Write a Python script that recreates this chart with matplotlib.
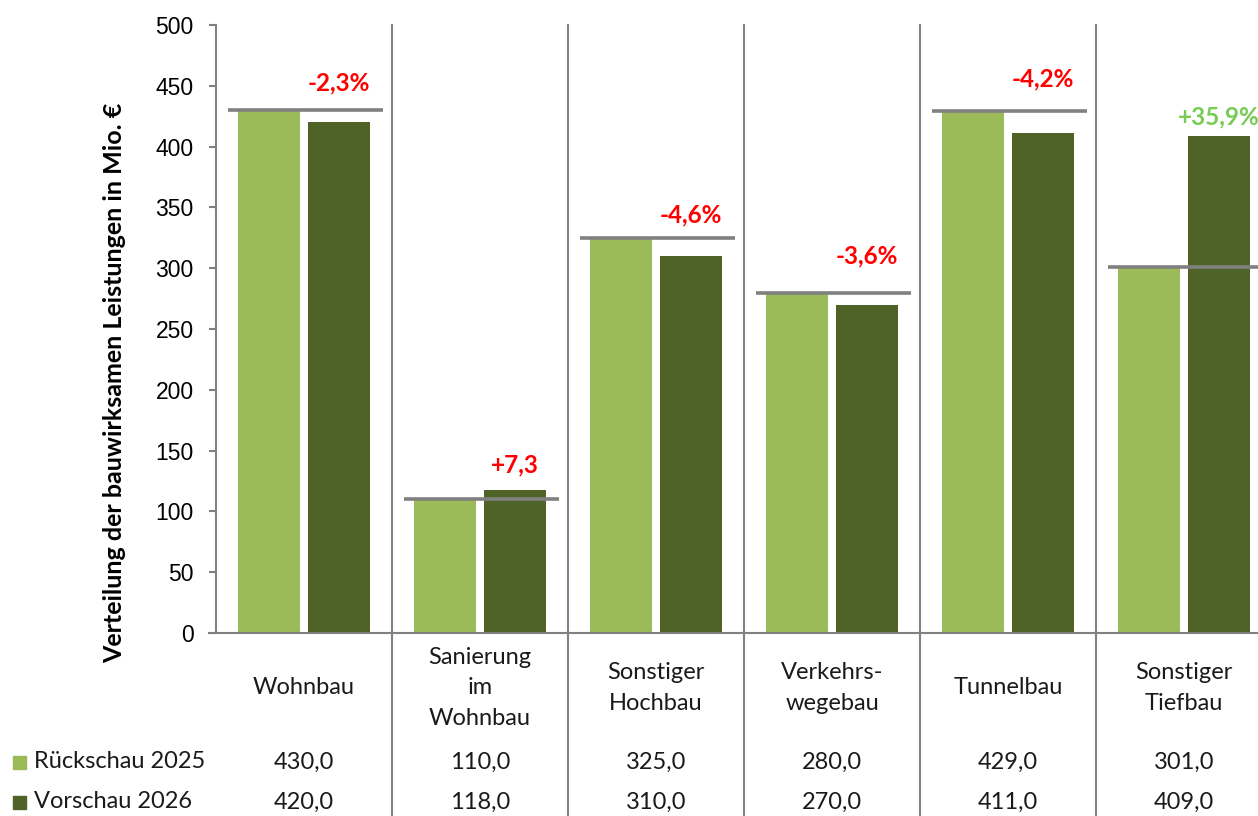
import matplotlib
matplotlib.use("Agg")
import matplotlib.pyplot as plt
from matplotlib.patches import Rectangle
from matplotlib.transforms import blended_transform_factory

# data
categories = ["Wohnbau", "Sanierung\nim\nWohnbau", "Sonstiger\nHochbau",
              "Verkehrs-\nwegebau", "Tunnelbau", "Sonstiger\nTiefbau"]
rueckschau_2025 = [430.0, 110.0, 325.0, 280.0, 429.0, 301.0]
vorschau_2026 = [420.0, 118.0, 310.0, 270.0, 411.0, 409.0]
change_labels = ["-2,3%", "+7,3", "-4,6%", "-3,6%", "-4,2%", "+35,9%"]
change_colors = ["#FF0000", "#FF0000", "#FF0000", "#FF0000", "#FF0000", "#77CC55"]
series_names = ["Rückschau 2025", "Vorschau 2026"]
yticks = list(range(0, 501, 50))

# vertical gap between bar top and change label (style only)
label_pad = [22, 20, 19, 30, 27, 15]

LIGHT = "#9BBB59"
DARK = "#4F6228"
GRAY = "#808080"
TXT = "#1A1A1A"
BODY = ["Lato", "DejaVu Sans"]

W, H = 1258, 816
fig = plt.figure(figsize=(W / 100, H / 100), dpi=100)
ax = fig.add_axes([216 / W, (H - 633) / H, (1272 - 216) / W, 608 / H])

x = list(range(len(categories)))
bw = 0.35
off = 0.2
ax.bar([i - off for i in x], rueckschau_2025, width=bw, color=LIGHT, zorder=2)
ax.bar([i + off for i in x], vorschau_2026, width=bw, color=DARK, zorder=2)

# reference line at last year's value
for i, v in enumerate(rueckschau_2025):
    ax.plot([i - 0.43, i + 0.45], [v, v], color=GRAY, lw=2.6, zorder=3,
            solid_capstyle="butt")

# change labels
for i, (lab, col) in enumerate(zip(change_labels, change_colors)):
    top = max(rueckschau_2025[i], vorschau_2026[i])
    ax.text(i + 0.2, top + label_pad[i], lab, color=col, fontsize=17.5,
            fontweight="bold", ha="center", va="center", family=BODY)

ax.set_xlim(-0.5, len(categories) - 0.5)
ax.set_ylim(0, 500)
ax.set_yticks(yticks)
ax.set_yticklabels([str(t) for t in yticks], fontsize=16.5,
                   family=["Liberation Sans", "DejaVu Sans"], color="black")
ax.set_xticks([])
ax.tick_params(axis="y", color=GRAY, length=5, width=1.5, pad=11)
for s in ["top", "right"]:
    ax.spines[s].set_visible(False)
ax.spines["left"].set_color(GRAY)
ax.spines["left"].set_linewidth(1.5)
ax.spines["bottom"].set_color(GRAY)
ax.spines["bottom"].set_linewidth(1.5)
ax.spines["bottom"].set_bounds(-0.54, len(categories) - 0.5)
ax.spines["bottom"].set_zorder(4)

# category separators running through the data table
trans = blended_transform_factory(ax.transData, ax.transAxes)
for i in range(len(categories) - 1):
    ax.plot([i + 0.5, i + 0.5], [-0.35, 1.0], color=GRAY, lw=1.5,
            transform=trans, clip_on=False, zorder=1)

# data table
def ay(ypx):
    return (633 - ypx) / 608

for i, cat in enumerate(categories):
    ax.text(i, ay(688), cat, transform=trans, ha="center", va="center",
            fontsize=17, color=TXT, linespacing=1.55, family=BODY)
    ax.text(i, ay(762), f"{rueckschau_2025[i]:.1f}".replace(".", ","),
            transform=trans, ha="center", va="center", fontsize=17,
            color=TXT, family=BODY)
    ax.text(i, ay(802), f"{vorschau_2026[i]:.1f}".replace(".", ","),
            transform=trans, ha="center", va="center", fontsize=17,
            color=TXT, family=BODY)

# legend keys in the table
for ypx, name, col in zip([762, 802], series_names, [LIGHT, DARK]):
    fig.patches.append(Rectangle((13 / W, (H - ypx - 7) / H), 13 / W, 13 / H,
                                 transform=fig.transFigure, color=col))
    fig.text(34 / W, (H - ypx) / H, name, ha="left", va="center",
             fontsize=17, color=TXT, family=BODY)

fig.text(115 / W, (H - 383) / H,
         "Verteilung der bauwirksamen Leistungen in Mio. €",
         rotation=90, ha="center", va="center", fontsize=18,
         fontweight="bold", color="black", family=BODY)

fig.savefig("out.png", dpi=100)
